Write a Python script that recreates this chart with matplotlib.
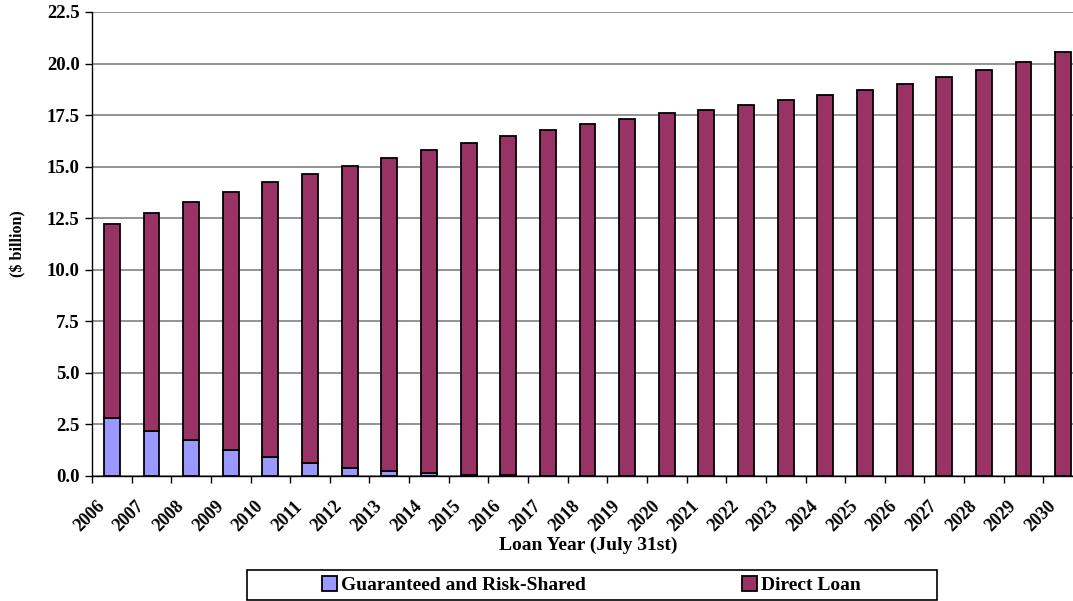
import numpy as np
import matplotlib as mpl
mpl.use("Agg")
import matplotlib.pyplot as plt
import matplotlib.transforms as mtrans
from matplotlib.patches import Rectangle

mpl.rcParams.update({
    "font.family": "serif",
    "font.serif": ["Liberation Serif", "DejaVu Serif"],
    "font.weight": "bold",
})

years = [str(y) for y in range(2006, 2031)]
total = [12.22, 12.75, 13.29, 13.77, 14.26, 14.65, 15.03, 15.42, 15.81, 16.15,
         16.49, 16.78, 17.07, 17.31, 17.60, 17.75, 17.99, 18.23, 18.48, 18.72,
         19.01, 19.35, 19.69, 20.08, 20.56]
guaranteed = [2.80, 2.20, 1.73, 1.28, 0.91, 0.61, 0.37, 0.23, 0.13, 0.06,
              0.03, 0.02, 0.01, 0.0, 0.0, 0.0, 0.0, 0.0, 0.0, 0.0,
              0.0, 0.0, 0.0, 0.0, 0.0]
direct = list(np.array(total) - np.array(guaranteed))

col_guar = '#9999FF'
col_direct = '#993366'

W, H = 1073, 601
fig = plt.figure(figsize=(W/100, H/100), dpi=100)
# plot area runs a bit past the right edge of the picture, as in the original
ax = fig.add_axes([92/W, 1-476/H, (1083-92)/W, (476-12)/H])

x = np.arange(len(years))
bw = 0.4
b1 = ax.bar(x, guaranteed, bw, color=col_guar, edgecolor='black', linewidth=1.3,
            label='Guaranteed and Risk-Shared', zorder=3)
b2 = ax.bar(x, direct, bw, bottom=guaranteed, color=col_direct, edgecolor='black',
            linewidth=1.3, label='Direct Loan', zorder=3)

ax.set_xlim(-0.5, len(years) - 0.5)
ax.set_ylim(0, 22.5)
yt = np.arange(0, 22.6, 2.5)
ax.set_yticks(yt)
ax.set_yticklabels(['%.1f' % v for v in yt], fontsize=13.5)
ax.yaxis.grid(True, color='#808080', linewidth=1.2, zorder=0)

# ticks on category boundaries, labels at left boundary
ax.set_xticks(np.arange(len(years) + 1) - 0.5)
ax.set_xticklabels(years + [''], rotation=45, ha='right', va='top',
                   rotation_mode='anchor', fontsize=13)
ax.tick_params(axis='both', direction='out', length=5, width=1, color='black')
ax.tick_params(axis='y', pad=4)
shift = mtrans.ScaledTranslation(4/100, -10/100, fig.dpi_scale_trans)
for lab in ax.get_xticklabels():
    lab.set_transform(lab.get_transform() + shift)

for s in ['top', 'right']:
    ax.spines[s].set_visible(False)
ax.spines['left'].set_linewidth(1)
ax.spines['bottom'].set_linewidth(1)

fig.text(588/W, 1-545/H, 'Loan Year (July 31st)', ha='center', va='center',
         fontsize=14, fontweight='bold')
fig.text(18/W, 1-244/H, '($ billion)', rotation=90, ha='center',
         va='center', fontsize=11.5)

# legend frame and entries
fig.patches.append(Rectangle((247/W, 1-600/H), 690/W, 30/H, transform=fig.transFigure,
                             facecolor='white', edgecolor='black', linewidth=1.2))
leg_kw = dict(loc='center left', fontsize=14, frameon=False, handlelength=0.78,
              handleheight=0.78, handletextpad=0.2, borderpad=0, borderaxespad=0)
fig.legend(handles=[b1], bbox_to_anchor=(322/W, 1-585/H), **leg_kw)
fig.legend(handles=[b2], bbox_to_anchor=(742/W, 1-585/H), **leg_kw)

fig.savefig('out.png', dpi=100)
